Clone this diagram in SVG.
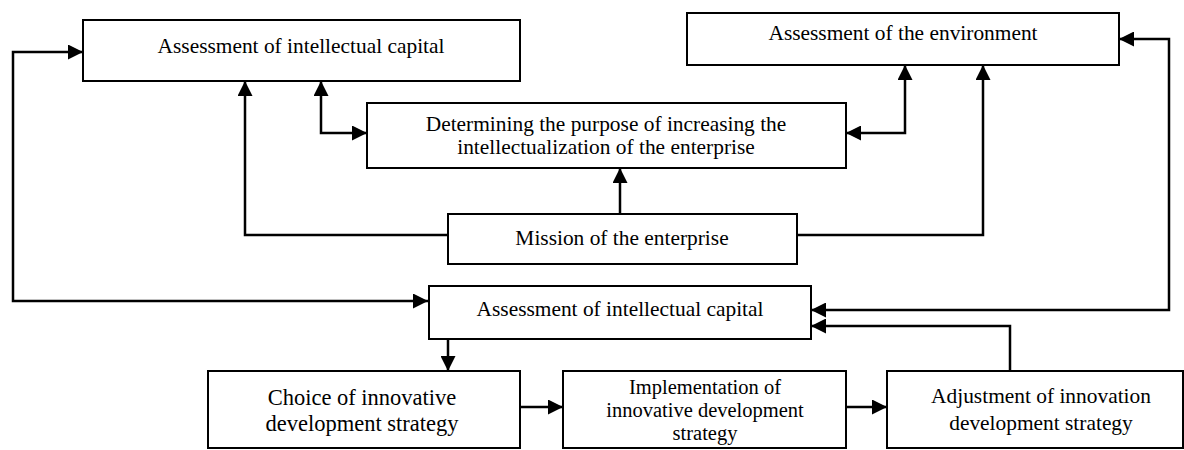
<svg xmlns="http://www.w3.org/2000/svg" width="1184" height="450" viewBox="0 0 1184 450">
<style>
  .box { fill: #ffffff; stroke: #000000; stroke-width: 2; }
  .lbl { font-family: "Liberation Serif", "Times New Roman", serif; font-size: 21.4px; fill: #000000; text-anchor: middle; }
  .big { font-size: 22.5px; }
  .tight { font-size: 20.5px; }
  .con { fill: none; stroke: #000000; stroke-width: 2.5; }
  .one { marker-end: url(#ah); }
  .two { marker-start: url(#ah); marker-end: url(#ah); }
</style>
<defs>
  <marker id="ah" markerUnits="userSpaceOnUse" markerWidth="15" markerHeight="15" refX="15" refY="7.5" orient="auto-start-reverse">
    <path d="M0,0 L15,7.5 L0,15 Z" fill="#000000"/>
  </marker>
</defs>
<rect width="1184" height="450" fill="#ffffff"/>
<g id="connectors">
  <path class="con two" d="M428,301 H13 V52 H83"/>
  <path class="con two" d="M1119,39 H1169 V310 H811"/>
  <path class="con two" d="M321,81 V133 H367"/>
  <path class="con two" d="M905,65 V133 H846"/>
  <path class="con one" d="M448,235 H245 V81"/>
  <path class="con one" d="M797,235 H983 V65"/>
  <path class="con one" d="M620,214 V168"/>
  <path class="con one" d="M448,339 V371"/>
  <path class="con one" d="M520,407 H563"/>
  <path class="con one" d="M846,407 H887"/>
  <path class="con one" d="M1010,371 V326 H811"/>
</g>
<g id="node-ic-top">
  <rect class="box" x="83" y="20" width="437" height="61"/>
  <text class="lbl" x="301" y="53">Assessment of intellectual capital</text>
</g>
<g id="node-env">
  <rect class="box" x="687" y="13" width="432" height="52"/>
  <text class="lbl" x="903" y="40">Assessment of the environment</text>
</g>
<g id="node-purpose">
  <rect class="box" x="367" y="103" width="479" height="65"/>
  <text class="lbl" x="606" y="131">Determining the purpose of increasing the</text>
  <text class="lbl" x="606" y="154">intellectualization of the enterprise</text>
</g>
<g id="node-mission">
  <rect class="box" x="448" y="214" width="349" height="50"/>
  <text class="lbl" x="622" y="245">Mission of the enterprise</text>
</g>
<g id="node-ic-bottom">
  <rect class="box" x="429" y="286" width="382" height="53"/>
  <text class="lbl" x="620" y="316">Assessment of intellectual capital</text>
</g>
<g id="node-choice">
  <rect class="box" x="208" y="371" width="312" height="77"/>
  <text class="lbl big" x="362" y="405">Choice of innovative</text>
  <text class="lbl big" x="362" y="431">development strategy</text>
</g>
<g id="node-impl">
  <rect class="box" x="563" y="371" width="283" height="77"/>
  <text class="lbl tight" x="705" y="394">Implementation of</text>
  <text class="lbl tight" x="705" y="417">innovative development</text>
  <text class="lbl tight" x="705" y="440">strategy</text>
</g>
<g id="node-adj">
  <rect class="box" x="887" y="371" width="296" height="77"/>
  <text class="lbl" x="1041" y="403">Adjustment of innovation</text>
  <text class="lbl" x="1041" y="430">development strategy</text>
</g>
</svg>
